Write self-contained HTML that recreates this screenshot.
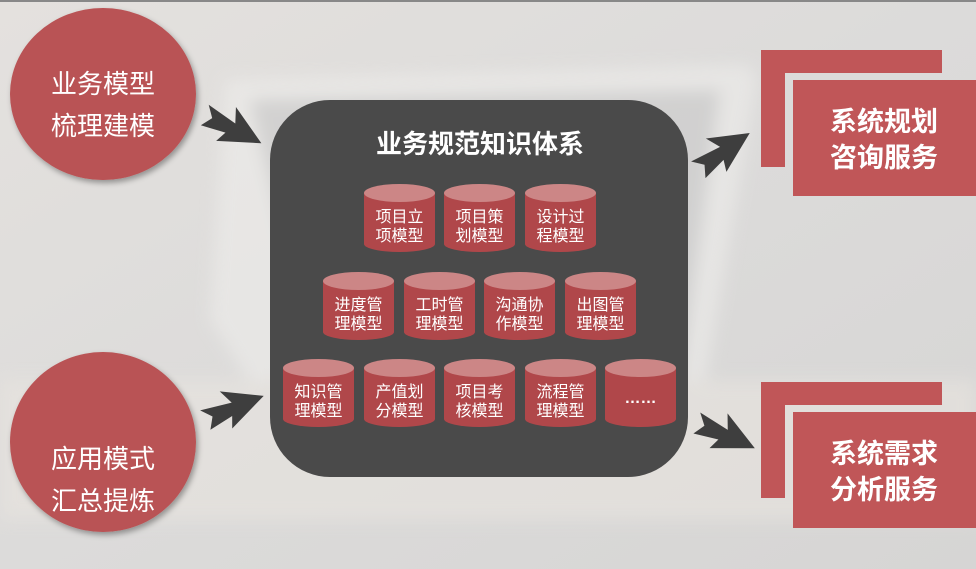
<!DOCTYPE html>
<html><head><meta charset="utf-8"><style>
body{margin:0;width:976px;height:569px;overflow:hidden;background:#dcdad8}
svg{display:block}
</style></head><body>
<svg width="976" height="569" viewBox="0 0 976 569" xmlns="http://www.w3.org/2000/svg" font-family="Liberation Sans, Noto Sans CJK SC, sans-serif">
<defs>
<linearGradient id="bg" x1="0" y1="0" x2="1" y2="1">
<stop offset="0" stop-color="#e4e1de"/><stop offset="0.5" stop-color="#dcdbda"/><stop offset="1" stop-color="#d6d5d4"/>
</linearGradient>
<filter id="sh" x="-20%" y="-20%" width="140%" height="140%"><feDropShadow dx="2" dy="3" stdDeviation="3" flood-opacity="0.35"/></filter>
<filter id="bl"><feGaussianBlur stdDeviation="8"/></filter>
<g id="arr"><polygon points="0,-9 28,-5 22,-18 56,0 20,16 24,6 2,10 8,0" fill="#3e3e3e"/></g>
<g id="cyl">
<path d="M0,9 L0,60 A35.5,8 0 0 0 71,60 L71,9 Z" fill="#b0474a"/>
<ellipse cx="35.5" cy="9" rx="35.5" ry="9" fill="#cc8686"/>
</g>
</defs>
<rect width="976" height="569" fill="url(#bg)"/>
<rect x="0" y="0" width="976" height="2" fill="#888"/>
<g filter="url(#bl)" opacity="0.6">
<path d="M225,80 L740,65 Q760,66 755,90 L690,470 L320,490 L210,320 Z" fill="#eeedeb"/>
<path d="M250,100 L720,90 L670,460 L340,470 Z" fill="#cacaca"/>
<rect x="0" y="380" width="976" height="140" fill="#e8e4df"/>
</g>
<ellipse cx="103" cy="94" rx="93" ry="86" fill="#b95254" filter="url(#sh)"/>
<text x="103" y="93" font-size="26" fill="#fff" text-anchor="middle">业务模型</text>
<text x="103" y="135" font-size="26" fill="#fff" text-anchor="middle">梳理建模</text>
<ellipse cx="103" cy="442" rx="93" ry="90" fill="#b95254" filter="url(#sh)"/>
<text x="103" y="468" font-size="26" fill="#fff" text-anchor="middle">应用模式</text>
<text x="103" y="510" font-size="26" fill="#fff" text-anchor="middle">汇总提炼</text>
<use href="#arr" transform="translate(204,114) rotate(27) scale(1.15)"/>
<use href="#arr" transform="translate(204,420) rotate(-22) scale(1.15)"/>
<use href="#arr" transform="translate(697,170) rotate(-35) scale(1.15)"/>
<use href="#arr" transform="translate(696,422) rotate(24) scale(1.15)"/>
<rect x="270" y="100" width="418" height="377" rx="60" fill="#4a4a4a"/>
<text x="480" y="153" font-size="26" font-weight="bold" fill="#fff" text-anchor="middle">业务规范知识体系</text>
<g font-size="16" fill="#fff" text-anchor="middle">
<use href="#cyl" x="364" y="184"/><text x="399.5" y="222">项目立</text><text x="399.5" y="241">项模型</text>
<use href="#cyl" x="444" y="184"/><text x="479.5" y="222">项目策</text><text x="479.5" y="241">划模型</text>
<use href="#cyl" x="525" y="184"/><text x="560.5" y="222">设计过</text><text x="560.5" y="241">程模型</text>
<use href="#cyl" x="323" y="272"/><text x="358.5" y="310">进度管</text><text x="358.5" y="329">理模型</text>
<use href="#cyl" x="404" y="272"/><text x="439.5" y="310">工时管</text><text x="439.5" y="329">理模型</text>
<use href="#cyl" x="484" y="272"/><text x="519.5" y="310">沟通协</text><text x="519.5" y="329">作模型</text>
<use href="#cyl" x="565" y="272"/><text x="600.5" y="310">出图管</text><text x="600.5" y="329">理模型</text>
<use href="#cyl" x="283" y="359"/><text x="318.5" y="397">知识管</text><text x="318.5" y="416">理模型</text>
<use href="#cyl" x="364" y="359"/><text x="399.5" y="397">产值划</text><text x="399.5" y="416">分模型</text>
<use href="#cyl" x="444" y="359"/><text x="479.5" y="397">项目考</text><text x="479.5" y="416">核模型</text>
<use href="#cyl" x="525" y="359"/><text x="560.5" y="397">流程管</text><text x="560.5" y="416">理模型</text>
<use href="#cyl" x="605" y="359"/><text x="640.5" y="403" font-weight="bold">……</text>
</g>
<path d="M761,50 H942 V73 H785 V167 H761 Z" fill="#c05658"/>
<rect x="793" y="80" width="183" height="116" fill="#c05658"/>
<text x="884" y="131" font-size="27" font-weight="bold" fill="#fff" text-anchor="middle">系统规划</text>
<text x="884" y="167" font-size="27" font-weight="bold" fill="#fff" text-anchor="middle">咨询服务</text>
<path d="M761,382 H942 V405 H785 V498 H761 Z" fill="#c05658"/>
<rect x="793" y="412" width="183" height="116" fill="#c05658"/>
<text x="884" y="463" font-size="27" font-weight="bold" fill="#fff" text-anchor="middle">系统需求</text>
<text x="884" y="499" font-size="27" font-weight="bold" fill="#fff" text-anchor="middle">分析服务</text>
</svg>
</body></html>
